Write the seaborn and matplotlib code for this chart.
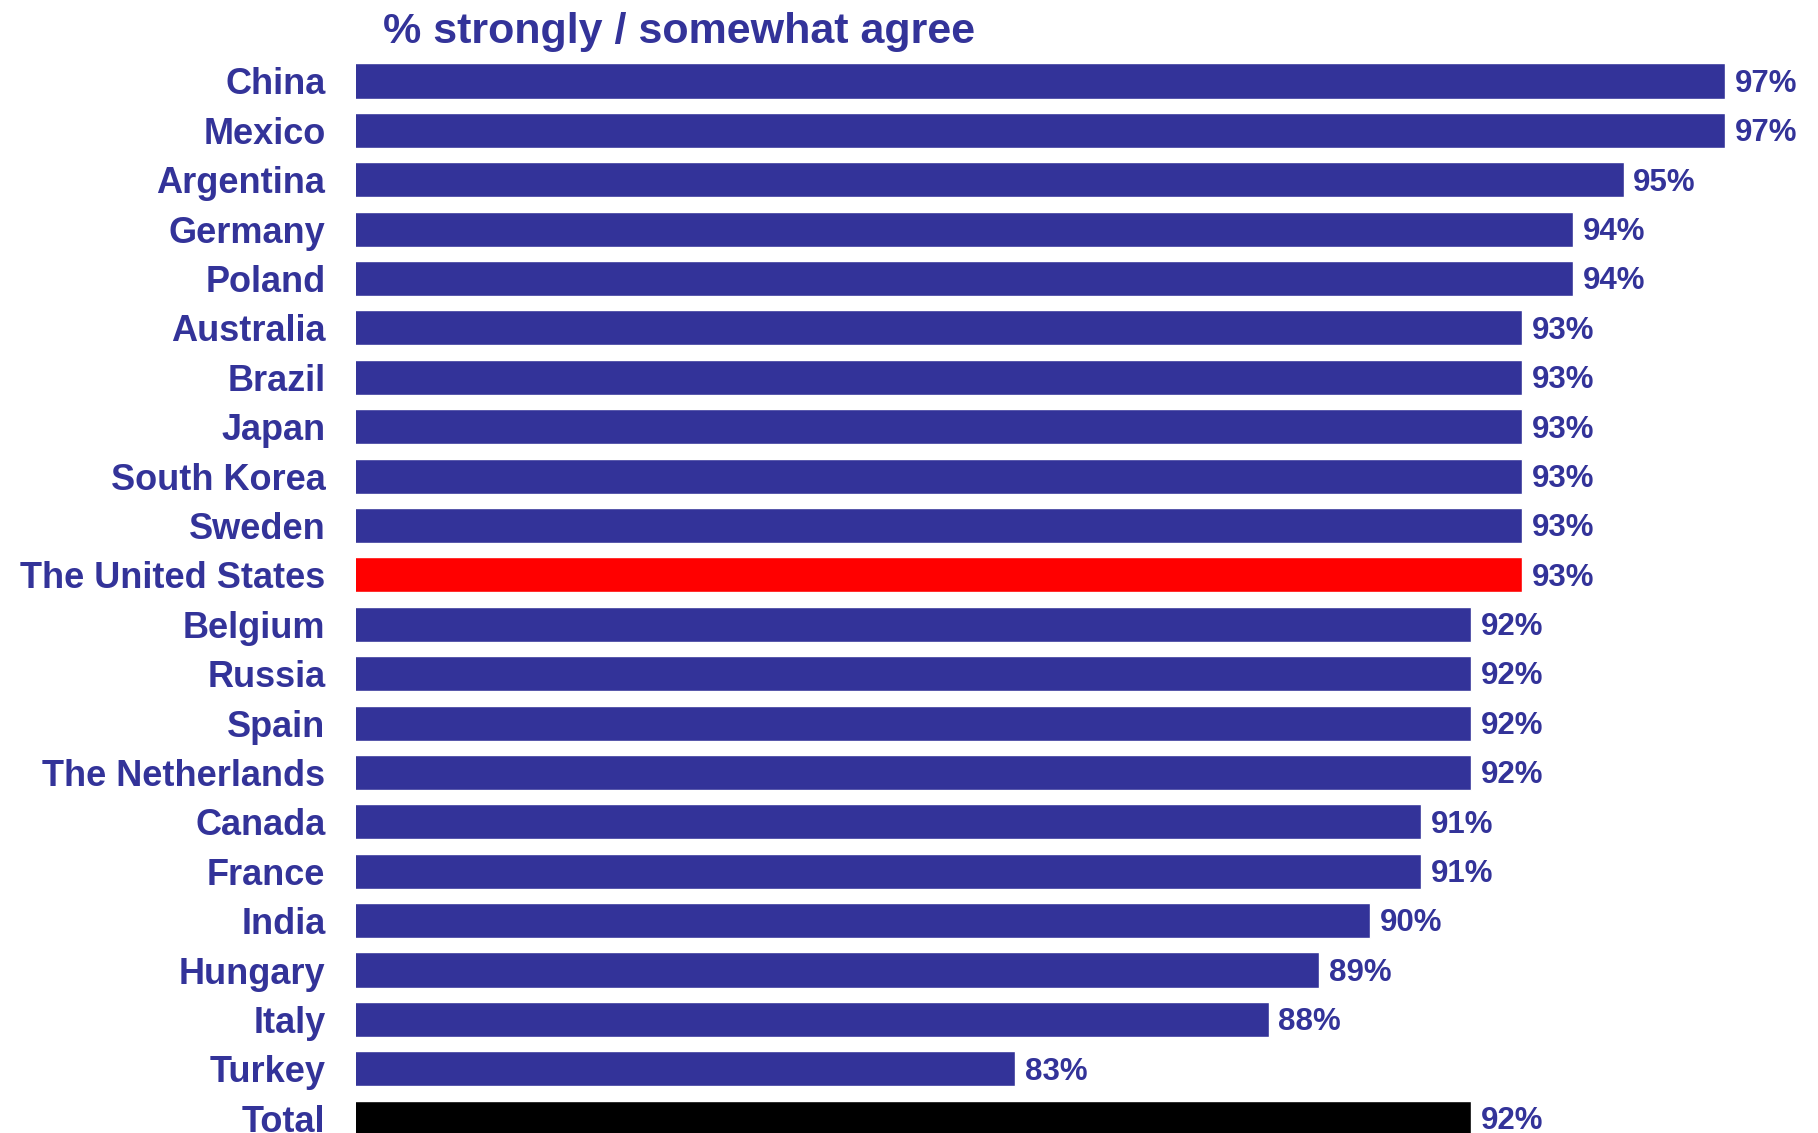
import matplotlib
matplotlib.use("Agg")
import matplotlib.pyplot as plt
import seaborn as sns
import pandas as pd

countries = ["China", "Mexico", "Argentina", "Germany", "Poland", "Australia", "Brazil",
             "Japan", "South Korea", "Sweden", "The United States", "Belgium", "Russia",
             "Spain", "The Netherlands", "Canada", "France", "India", "Hungary", "Italy",
             "Turkey", "Total"]
values = [97, 97, 95, 94, 94, 93, 93, 93, 93, 93, 93, 92, 92, 92, 92, 91, 91, 90, 89, 88, 83, 92]
title = "% strongly / somewhat agree"

NAVY = "#333399"
colors = {c: NAVY for c in countries}
colors["The United States"] = "#FF0000"
colors["Total"] = "#000000"

sns.set_theme(style="white")
plt.rcParams["font.family"] = ["Liberation Sans", "DejaVu Sans"]

df = pd.DataFrame({"country": countries, "value": values})

fig = plt.figure(figsize=(18.18, 11.33), dpi=100)
ax = fig.add_axes([356 / 1818, 0.0, (1725 - 356) / 1818, 1.0])
sns.barplot(data=df, x="value", y="country", hue="country", palette=colors,
            legend=False, width=0.71, ax=ax, orient="h", saturation=1)
ax.set_xlim(70, 97)
ax.set_ylim(21.3, -1.64)
for s in ax.spines.values():
    s.set_visible(False)
ax.set_xticks([])
ax.set_xlabel("")
ax.set_ylabel("")
ax.tick_params(axis="y", length=0, pad=22)
for lab in ax.get_yticklabels():
    lab.set_fontsize(26)
    lab.set_fontweight("bold")
    lab.set_color(NAVY)

for i, v in enumerate(values):
    ax.annotate(f"{v}%", xy=(v, i), xytext=(7, -2), textcoords="offset points",
                ha="left", va="center", fontsize=22.5, fontweight="bold",
                color=NAVY, annotation_clip=False)

fig.text(383 / 1818, 1 - 32 / 1133, title, ha="left", va="center",
         fontsize=31, fontweight="bold", color=NAVY,
         family=["Liberation Sans", "DejaVu Sans"])

fig.savefig("out.png", dpi=100)
